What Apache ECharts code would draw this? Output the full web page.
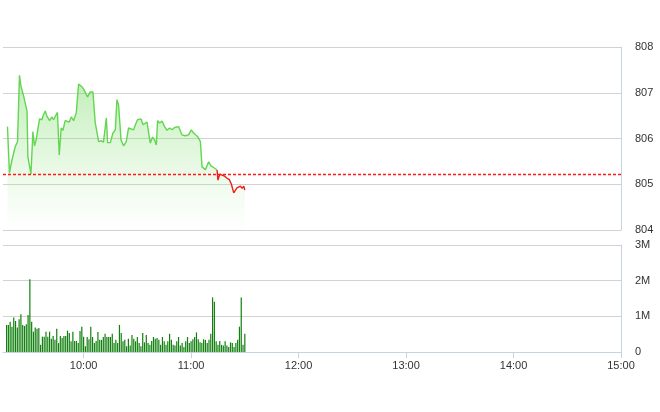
<!DOCTYPE html>
<html>
<head>
<meta charset="utf-8">
<script src="https://cdn.jsdelivr.net/npm/echarts@6/dist/echarts.min.js"></script>
<style>
html,body{margin:0;padding:0;background:#fff;}
#c{width:660px;height:412px;}
</style>
</head>
<body>
<div id="c"></div>
<script>
// ---- data ----
var referencePrice = 805.22;
var priceTimes = ['9:17:30','9:18:36','9:20:00','9:21:48','9:23:06','9:23:42','9:24:12','9:25:00','9:26:30','9:28:24',
'9:28:54','9:30:36','9:31:42','9:32:36','9:33:30','9:35:24','9:36:42','9:37:36','9:38:36','9:39:30',
'9:41:00','9:42:18','9:43:12','9:45:24','9:46:24','9:47:30','9:48:30','9:49:42','9:50:42','9:52:00',
'9:53:06','9:54:24','9:55:54','9:57:12','9:59:06','10:00:00','10:02:12','10:03:42','10:05:12','10:06:30',
'10:08:24','10:09:54','10:11:06','10:12:42','10:13:24','10:14:54','10:16:24','10:17:42','10:18:36','10:19:30',
'10:20:54','10:22:18','10:23:48','10:25:06','10:26:06','10:27:54','10:28:54','10:30:06','10:32:00','10:33:12',
'10:35:24','10:37:12','10:38:30','10:39:36','10:40:36','10:41:18','10:42:24','10:43:48','10:45:12','10:46:36',
'10:48:00','10:49:24','10:50:48','10:53:00','10:54:54','10:56:48','10:58:36','11:00:06','11:01:24','11:03:42',
'11:05:12','11:06:06','11:08:00','11:09:48','11:11:06','11:13:12','11:14:30','11:15:00','11:16:00','11:17:18',
'11:18:36','11:20:06','11:21:24','11:22:30','11:23:48','11:24:42','11:25:36','11:26:30','11:27:36','11:28:30',
'11:29:24','11:30:00'];
var priceValues = [806.26,805.25,805.53,805.82,805.93,805.97,807.38,807.15,806.93,806.60,
805.60,805.22,806.15,805.84,805.97,806.43,806.41,806.52,806.60,806.49,
806.39,806.47,806.41,806.57,805.64,806.23,806.18,806.39,806.41,806.36,
806.47,806.39,806.56,807.19,807.13,807.08,806.91,807.02,807.02,806.34,
805.93,805.95,805.92,806.45,805.91,805.91,806.12,806.19,806.85,806.74,
805.97,805.84,805.93,806.23,806.26,806.19,806.30,806.41,806.43,806.30,
806.36,805.90,806.03,805.97,805.86,806.39,806.34,806.38,806.26,806.18,
806.23,806.19,806.24,806.26,806.08,806.06,806.08,806.19,806.12,806.04,
805.93,805.38,805.32,805.49,805.40,805.35,805.31,805.09,805.22,805.20,
805.18,805.13,805.10,805.00,804.81,804.85,804.92,804.91,804.96,804.91,
804.96,804.87];

// volume per minute (millions of shares), starting 9:17
var volumeStart = '9:17';
var volumeValues = [0.76,0.76,0.85,0.71,0.97,0.87,0.69,0.92,1.06,0.76,0.73,0.78,1.04,2.04,
0.85,0.57,0.69,0.65,0.67,0.20,0.43,0.43,0.57,0.43,0.57,0.37,0.45,0.34,0.65,0.25,0.45,0.39,0.45,0.45,
0.60,0.53,0.30,0.57,0.31,0.31,0.25,0.59,0.71,0.43,0.16,0.42,0.36,0.71,0.42,0.25,0.31,0.56,0.34,0.34,
0.42,0.51,0.42,0.42,0.42,0.51,0.25,0.34,0.25,0.76,0.53,0.30,0.34,0.16,0.37,
0.18,0.48,0.37,0.30,0.42,0.25,0.16,0.53,0.27,0.48,0.25,0.20,0.31,0.42,0.37,0.39,0.34,0.20,0.42,0.30,
0.20,0.30,0.51,0.34,0.20,0.18,0.30,0.42,0.18,0.25,0.14,0.30,0.42,0.25,0.30,0.36,0.42,0.55,0.36,0.27,
0.25,0.36,0.34,0.25,0.34,0.51,
1.53,1.41,
0.30,0.20,0.31,0.20,0.18,0.30,0.18,0.14,0.27,0.25,0.14,0.25,0.34,
0.71,1.53,0.20,0.51];

var timeTicks = ['10:00','11:00','12:00','13:00','14:00','15:00'];
var axisStart = '9:15', axisEnd = '15:00';
var priceTicks = [804, 805, 806, 807, 808];
var volumeTicks = [0, 1, 2, 3];

// ---- helpers ----
function toMin(s){var p=s.split(':');return (+p[0])*60+(+p[1])+(p[2]?(+p[2])/60:0);}
function fmt(m){var h=Math.floor(m/60),mm=Math.round(m-h*60);return h+':'+(mm<10?'0':'')+mm;}

var priceData = priceTimes.map(function(t,i){return [toMin(t), priceValues[i]];});
// line turns red once price stays at/below the reference price
var split = priceValues.length - 1;
while (split > 0 && priceValues[split-1] <= referencePrice) split--;
var greenData = priceData.slice(0, split);
var redData = priceData.slice(split - 1);

var v0 = toMin(volumeStart);
var volumeData = volumeValues.map(function(v,i){return [v0+i, v];});
var tickMins = timeTicks.map(toMin);

var chart = echarts.init(document.getElementById('c'), null, {renderer:'canvas'});
var labelStyle = {color:'#333', fontSize:11, fontFamily:'Arial, "Liberation Sans", sans-serif'};
var axisBlue = '#c6d2e6';
var gridGray = '#d2d2d2';

chart.setOption({
  animation:false,
  backgroundColor:'#fff',
  grid:[
    {left:3, right:39, top:47, height:183},
    {left:3, right:39, top:245, height:107}
  ],
  xAxis:[
    {gridIndex:0, type:'value', min:toMin(axisStart), max:toMin(axisEnd), interval:15,
     axisLine:{show:false}, axisTick:{show:false}, axisLabel:{show:false}, splitLine:{show:false}},
    {gridIndex:1, type:'value', min:toMin(axisStart), max:toMin(axisEnd), interval:15,
     axisLine:{show:true, lineStyle:{color:axisBlue}},
     axisTick:{show:true, length:6, lineStyle:{color:axisBlue}, customValues:tickMins},
     axisLabel:Object.assign({margin:8, customValues:tickMins, formatter:function(v){return tickMins.indexOf(v)>=0?fmt(v):'';}}, labelStyle),
     splitLine:{show:false}}
  ],
  yAxis:[
    {gridIndex:0, type:'value', position:'right', min:priceTicks[0], max:priceTicks[priceTicks.length-1], interval:1,
     axisLine:{show:true, lineStyle:{color:axisBlue}}, axisTick:{show:false},
     axisLabel:Object.assign({margin:14}, labelStyle),
     splitLine:{show:true, lineStyle:{color:gridGray}}},
    {gridIndex:1, type:'value', position:'right', min:volumeTicks[0], max:volumeTicks[volumeTicks.length-1], interval:1,
     axisLine:{show:true, lineStyle:{color:axisBlue}}, axisTick:{show:false},
     axisLabel:Object.assign({margin:14, formatter:function(v){return v===0?'0':v+'M';}}, labelStyle),
     splitLine:{show:true, lineStyle:{color:gridGray}}}
  ],
  series:[
    {type:'line', xAxisIndex:0, yAxisIndex:0, data:priceData, showSymbol:false, symbol:'none',
     lineStyle:{width:0, opacity:0},
     areaStyle:{origin:'start', color:new echarts.graphic.LinearGradient(0,0,0,1,[
        {offset:0, color:'rgba(105,215,85,0.62)'},
        {offset:0.5, color:'rgba(120,220,100,0.3)'},
        {offset:1, color:'rgba(160,235,150,0.02)'}])},
     markLine:{silent:true, symbol:'none', label:{show:false},
       lineStyle:{color:'#ff1a1a', type:[3,2], width:1.3},
       data:[{yAxis:referencePrice}]}},
    {type:'line', xAxisIndex:0, yAxisIndex:0, data:greenData, showSymbol:false, symbol:'none',
     lineStyle:{width:1.4, color:'#62d650'}, itemStyle:{color:'#62d650'}},
    {type:'line', xAxisIndex:0, yAxisIndex:0, data:redData, showSymbol:false, symbol:'none',
     lineStyle:{width:1.4, color:'#ee1c1c'}, itemStyle:{color:'#ee1c1c'}},
    {type:'bar', xAxisIndex:1, yAxisIndex:1, data:volumeData, barWidth:1.2,
     itemStyle:{color:'#11800f'}}
  ]
});
</script>
</body>
</html>
